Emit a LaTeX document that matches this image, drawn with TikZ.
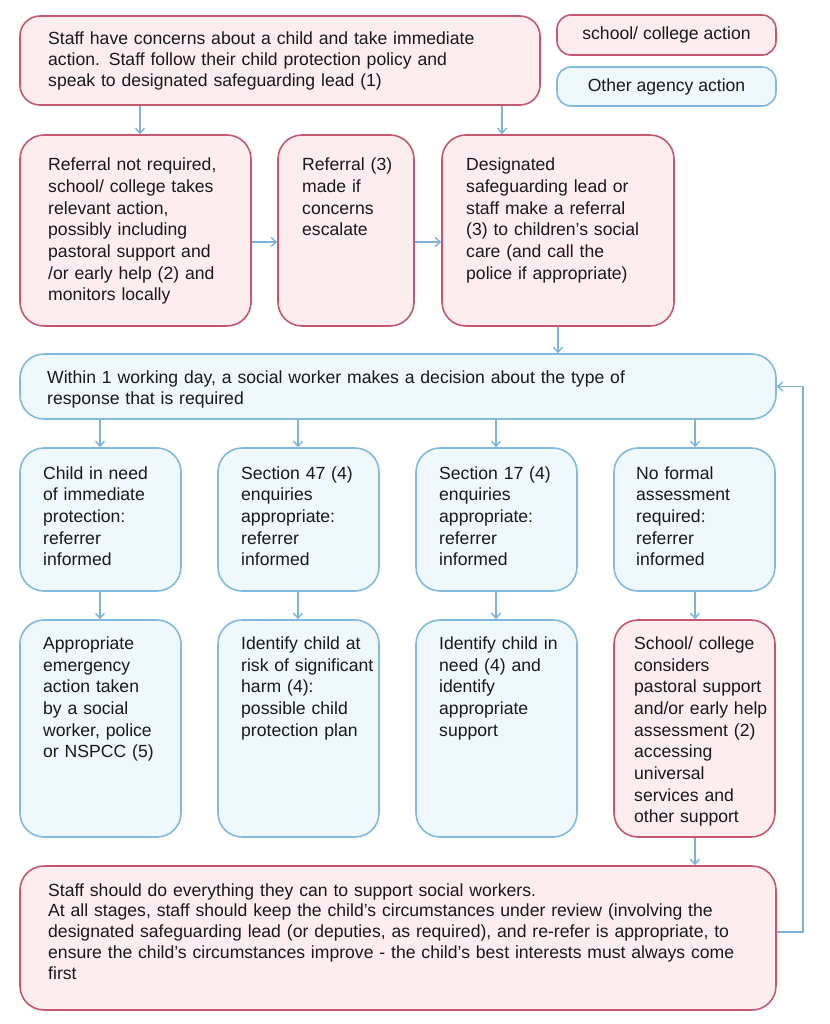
\documentclass[tikz,border=0pt]{standalone}
\usepackage{fontspec}
\setmainfont{Liberation Sans}
\usetikzlibrary{arrows.meta}
\definecolor{pfill}{RGB}{253,237,240}
\definecolor{pdraw}{RGB}{196,88,112}
\definecolor{bfill}{RGB}{238,248,253}
\definecolor{bdraw}{RGB}{130,185,224}
\definecolor{arrc}{RGB}{125,178,218}
\definecolor{txt}{RGB}{25,25,25}
\tikzset{
  x=1pt,y=-1pt,
  pbox/.style={draw=pdraw,fill=pfill,line width=1.6pt,rounded corners=24pt,inner sep=0pt},
  bbox/.style={draw=bdraw,fill=bfill,line width=1.6pt,rounded corners=24pt,inner sep=0pt},
  txtA/.style={anchor=base west,inner sep=0pt,align=left,text width=760pt,text=txt,
     font=\fontsize{17.6}{21.7}\selectfont},
  txtB/.style={txtA,font=\fontsize{17.6}{20.8}\selectfont},
  legtxt/.style={anchor=center,inner sep=0pt,text=txt,font=\fontsize{17.6}{20}\selectfont},
  arr/.style={draw=arrc,line width=1.4pt,-{Straight Barb[length=5pt,width=9pt]}}
}
\newcommand{\boxat}[6]{\node[#1,minimum width=#4-#3,minimum height=#6-#5] (#2) at ({(#3+#4)/2},{(#5+#6)/2}) {};}
\begin{document}
\begin{tikzpicture}
\useasboundingbox (0,0) rectangle (829,1024);
% boxes
\boxat{pbox,rounded corners=20pt}{top}{20}{540}{16}{105}
\boxat{pbox,rounded corners=14pt}{leg1}{557}{776}{15}{55}
\boxat{bbox,rounded corners=14pt}{leg2}{557}{776}{67}{106}
\boxat{pbox}{A}{20}{251}{135}{326}
\boxat{pbox}{B}{278}{414}{135}{326}
\boxat{pbox}{C}{442}{674}{135}{326}
\boxat{bbox}{wide}{20}{776}{354}{419}
\boxat{bbox}{r1}{20}{181}{448}{591}
\boxat{bbox}{r2}{218}{379}{448}{591}
\boxat{bbox}{r3}{416}{577}{448}{591}
\boxat{bbox}{r4}{614}{775}{448}{591}
\boxat{bbox}{s1}{20}{181}{620}{837}
\boxat{bbox}{s2}{218}{379}{620}{837}
\boxat{bbox}{s3}{416}{577}{620}{837}
\boxat{pbox}{s4}{614}{775}{620}{837}
\boxat{pbox}{bot}{20}{776}{866}{1010}
% texts
\node[txtB] (ttop) at (48,45) {Staff have concerns about a child and take immediate\\action. Staff follow their child protection policy and\\speak to designated safeguarding lead (1)};
\node[legtxt] (tleg1) at (leg1.center) {school/ college action};
\node[legtxt] (tleg2) at (leg2.center) {Other agency action};
\node[txtA] (tA) at (48,170.7) {Referral not required,\\school/ college takes\\relevant action,\\possibly including\\pastoral support and\\/or early help (2) and\\monitors locally};
\node[txtA] (tB) at (302,170.7) {Referral (3)\\made if\\concerns\\escalate};
\node[txtA] (tC) at (466,170.7) {Designated\\safeguarding lead or\\staff make a referral\\(3) to children’s social\\care (and call the\\police if appropriate)};
\node[txtB] (twide) at (47,383.3) {Within 1 working day, a social worker makes a decision about the type of\\response that is required};
\node[txtA] (tr1) at (43,479) {Child in need\\of immediate\\protection:\\referrer\\informed};
\node[txtA] (tr2) at (241,479) {Section 47 (4)\\enquiries\\appropriate:\\referrer\\informed};
\node[txtA] (tr3) at (439,479) {Section 17 (4)\\enquiries\\appropriate:\\referrer\\informed};
\node[txtA] (tr4) at (636,479) {No formal\\assessment\\required:\\referrer\\informed};
\node[txtA] (ts1) at (43,649.3) {Appropriate\\emergency\\action taken\\by a social\\worker, police\\or NSPCC (5)};
\node[txtA] (ts2) at (241,649.3) {Identify child at\\risk of significant\\harm (4):\\possible child\\protection plan};
\node[txtA] (ts3) at (439,649.3) {Identify child in\\need (4) and\\identify\\appropriate\\support};
\node[txtA] (ts4) at (634,649.3) {School/ college\\considers\\pastoral support\\and/or early help\\assessment (2)\\accessing\\universal\\services and\\other support};
\node[txtB] (tbot) at (48,896) {Staff should do everything they can to support social workers.\\At all stages, staff should keep the child’s circumstances under review (involving the\\designated safeguarding lead (or deputies, as required), and re-refer is appropriate, to\\ensure the child’s circumstances improve - the child’s best interests must always come\\first};
% connector guide coordinates
\coordinate (xa) at (140,0);
\coordinate (xc) at (502,0);
\coordinate (xw) at (558,0);
\coordinate (x1) at (100,0);
\coordinate (x2) at (298,0);
\coordinate (x3) at (496,0);
\coordinate (x4) at (695,0);
\coordinate (yr) at (0,242);
\coordinate (yb) at (0,932);
\coordinate (xf) at (803,0);
% connectors
\draw[arr] (top.south -| xa) -- (A.north -| xa);
\draw[arr] (top.south -| xc) -- (C.north -| xc);
\draw[arr] (A.east |- yr) -- (B.west |- yr);
\draw[arr] (B.east |- yr) -- (C.west |- yr);
\draw[arr] (C.south -| xw) -- (wide.north -| xw);
\draw[arr] (wide.south -| x1) -- (r1.north -| x1);
\draw[arr] (wide.south -| x2) -- (r2.north -| x2);
\draw[arr] (wide.south -| x3) -- (r3.north -| x3);
\draw[arr] (wide.south -| x4) -- (r4.north -| x4);
\draw[arr] (r1.south -| x1) -- (s1.north -| x1);
\draw[arr] (r2.south -| x2) -- (s2.north -| x2);
\draw[arr] (r3.south -| x3) -- (s3.north -| x3);
\draw[arr] (r4.south -| x4) -- (s4.north -| x4);
\draw[arr] (s4.south -| x4) -- (bot.north -| x4);
\draw[arr] (bot.east |- yb) -- (xf |- yb) |- (wide.east);
\end{tikzpicture}
\end{document}
